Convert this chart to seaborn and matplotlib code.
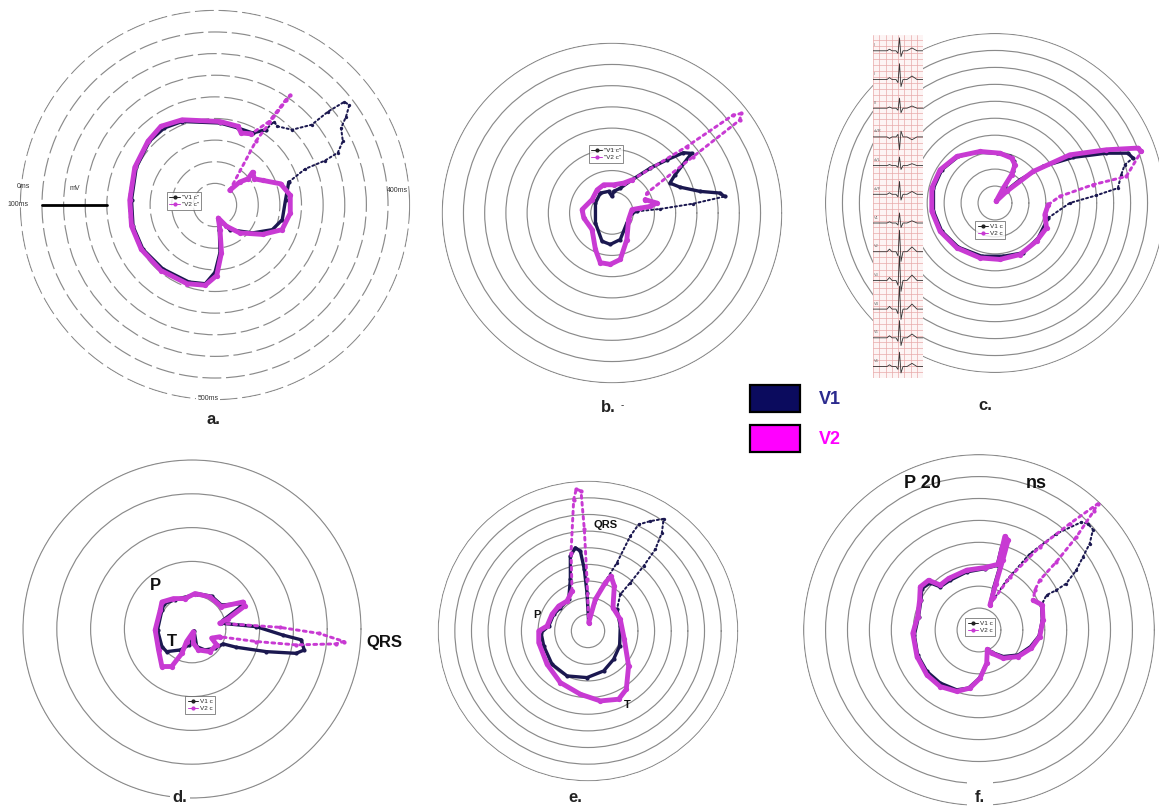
import numpy as np
import matplotlib
matplotlib.use("Agg")
import matplotlib.pyplot as plt
from matplotlib.lines import Line2D
from matplotlib.patches import Rectangle
import seaborn as sns

sns.set_theme(style="white")
plt.rcParams["font.family"] = ["Liberation Sans", "DejaVu Sans"]

# ---------------------------------------------------------------------------
# Loop data: x = horizontal, y = vertical component, in ring units (1 ring = 1)
# qrs = (first, last) index of the fast QRS stretch drawn as a dotted trace
# ---------------------------------------------------------------------------
a_v1_x = [3.41, 4.17, 5.08, 5.68, 5.91, 5.83, 6.06, 6.21, 5.98, 5.23, 4.47, 3.56, 2.88, 2.73, 2.35, 1.74, 1.06, 0.23,
          -1.52, -2.35, -3.03, -3.64, -3.86, -3.79, -3.33, -2.42, -1.21, -0.45, 0.0, 0.23, 0.2, 0.15, 0.68, 1.74,
          2.65, 3.11, 3.26, 3.41]
a_v1_y = [1.06, 1.67, 2.05, 2.42, 2.95, 3.56, 4.09, 4.62, 4.77, 4.32, 3.71, 3.48, 3.64, 3.86, 3.48, 3.33, 3.56, 3.79,
          3.86, 3.56, 2.95, 1.74, 0.23, -0.98, -2.05, -2.95, -3.56, -3.64, -3.11, -2.2, -1.14, -0.6, -1.14, -1.29,
          -1.14, -0.68, 0.23, 1.06]
a_v1_qrs = (0, 14)
a_v2_x = [0.68, 1.89, 3.48, 3.26, 2.5, 1.67, 1.21, 1.06, 0.23, -1.52, -2.5, -3.1, -3.71, -3.94, -3.86, -3.41, -2.5,
          -1.29, -0.45, 0.08, 0.3, 0.23, 0.15, 0.53, 1.14, 2.2, 3.1, 3.48, 3.48, 3.03, 2.2, 1.82, 1.74, 1.52, 1.14, 0.68]
a_v2_y = [0.68, 2.95, 5.08, 4.85, 3.86, 3.29, 3.33, 3.64, 3.86, 3.94, 3.64, 2.95, 1.74, 0.23, -0.98, -2.05, -3.03,
          -3.64, -3.71, -3.26, -2.2, -1.14, -0.6, -0.98, -1.29, -1.36, -1.14, -0.38, 0.45, 0.98, 1.14, 1.21, 1.52,
          1.21, 1.06, 0.68]
a_v2_qrs = (0, 5)

b_v1_x = [1.17, 2.27, 3.83, 5.31, 5.08, 4.14, 3.2, 2.73, 2.97, 3.75, 3.36, 2.58, 1.8, 0.94, 0.39, 0.08, 0.0, -0.16,
          -0.55, -0.78, -0.78, -0.47, -0.08, 0.39, 0.7, 0.94, 1.17]
b_v1_y = [0.08, 0.19, 0.44, 0.78, 0.94, 1.02, 1.22, 1.41, 1.8, 2.81, 2.84, 2.5, 2.11, 1.56, 1.17, 1.02, 0.78, 1.02,
          0.94, 0.47, -0.47, -1.33, -1.48, -1.25, -0.47, 0.0, 0.08]
b_v1_qrs = (0, 3)
b_v2_x = [1.56, 2.11, 1.8, 1.33, 0.94, 0.78, 0.7, 0.39, -0.08, -0.55, -0.78, -0.94, -1.33, -1.41, -0.94, -0.7, -0.39,
          0.08, 0.55, 0.94, 3.52, 5.7, 6.09, 6.02, 3.83, 1.64, 1.56]
b_v2_y = [0.63, 0.47, 0.31, 0.23, 0.16, -0.31, -1.25, -2.19, -2.42, -2.34, -1.72, -0.78, -0.23, 0.16, 0.63, 1.09,
          1.33, 1.33, 1.41, 1.56, 3.13, 4.61, 4.69, 4.38, 2.66, 0.94, 0.63]
b_v2_qrs = (19, 26)

c_v1_x = [0.06, 0.59, 1.08, 1.14, 0.88, 0.1, -1.08, -2.16, -3.14, -3.63, -3.63, -3.14, -2.16, -0.78, 0.49, 1.67, 2.55,
          3.14, 4.41, 5.98, 7.25, 7.45, 7.65, 8.14, 7.84, 6.57, 4.61, 2.84, 1.47, 0.49, 0.06]
c_v1_y = [0.1, 0.98, 1.86, 2.45, 2.75, 2.94, 3.0, 2.75, 1.96, 0.88, -0.49, -1.67, -2.61, -3.14, -3.14, -2.94, -2.06,
          -0.88, 0.0, 0.45, 0.88, 1.67, 2.25, 2.65, 2.94, 2.94, 2.69, 2.16, 1.37, 0.59, 0.1]
c_v1_qrs = (17, 23)
c_v2_x = [0.06, 0.49, 0.98, 1.18, 0.98, 0.29, -0.88, -2.25, -3.24, -3.73, -3.73, -3.24, -2.25, -0.88, 0.29, 1.47,
          2.45, 3.04, 2.94, 3.14, 3.82, 5.78, 7.75, 8.63, 8.43, 6.57, 4.41, 2.25, 0.69, 0.06]
c_v2_y = [0.1, 0.88, 1.67, 2.25, 2.65, 2.94, 3.04, 2.75, 1.96, 0.88, -0.49, -1.67, -2.65, -3.24, -3.33, -3.04, -2.25,
          -1.47, -0.69, -0.1, 0.39, 1.08, 1.57, 3.04, 3.24, 3.14, 2.84, 1.86, 0.69, 0.1]
c_v2_qrs = (19, 23)

d_v1_x = [0.87, 1.9, 2.69, 3.23, 3.32, 3.08, 2.2, 1.31, 0.92, 0.68, 0.38, 0.14, 0.06, -0.08, -0.35, -0.75, -0.89,
          -1.02, -0.89, -0.82, -0.5, -0.16, 0.14, 0.58, 0.87, 1.41, 1.46, 0.92, 0.87]
d_v1_y = [0.17, 0.07, -0.18, -0.32, -0.62, -0.72, -0.67, -0.54, -0.44, -0.57, -0.62, -0.52, -0.05, -0.47, -0.62,
          -0.67, -0.52, -0.03, 0.56, 0.75, 0.87, 0.95, 1.05, 0.97, 0.71, 0.75, 0.68, 0.26, 0.17]
d_v1_qrs = None
d_v2_x = [0.82, 2.59, 3.76, 4.5, 4.25, 3.08, 1.9, 0.82, 0.58, 0.73, 0.53, 0.19, 0.04, 0.04, -0.16, -0.3, -0.6, -0.89,
          -0.99, -1.09, -0.94, -0.89, -0.55, -0.21, 0.09, 0.53, 0.87, 1.51, 1.56, 1.07, 0.82]
d_v2_y = [0.17, 0.05, -0.13, -0.37, -0.44, -0.47, -0.37, -0.23, -0.27, -0.47, -0.67, -0.62, -0.42, -0.08, -0.37,
          -0.72, -1.11, -1.11, -0.62, -0.03, 0.56, 0.8, 0.9, 0.9, 1.05, 0.95, 0.66, 0.8, 0.68, 0.31, 0.17]
d_v2_qrs = (0, 7)

e_v1_x = [0.04, 0.74, 1.74, 2.54, 3.04, 3.74, 4.54, 4.44, 4.04, 3.34, 2.54, 1.94, 1.74, 1.94, 1.9, 1.54, 0.94, -0.06,
          -1.26, -2.16, -2.66, -2.82, -2.36, -2.06, -1.66, -1.16, -1.06, -1.06, -0.76, -0.46, -0.22, -0.06, 0.04]
e_v1_y = [0.5, 2.5, 4.1, 5.7, 6.4, 6.6, 6.74, 5.9, 4.9, 3.9, 2.9, 2.2, 1.3, 0.3, -0.9, -1.7, -2.4, -2.8, -2.7, -2.0,
          -0.9, -0.1, 0.3, 1.0, 1.4, 1.9, 3.1, 4.5, 5.0, 4.8, 3.7, 2.3, 0.5]
e_v1_qrs = (0, 12)
e_v2_x = [0.04, 0.44, 1.04, 1.38, 1.58, 1.5, 1.94, 2.18, 2.44, 2.3, 1.84, 0.74, -0.46, -1.66, -2.46, -2.96, -2.96,
          -2.46, -2.16, -1.76, -1.26, -0.96, -1.02, -0.86, -0.7, -0.42, -0.22, -0.06, 0.04]
e_v2_y = [0.5, 1.9, 2.9, 3.3, 2.7, 1.4, 0.7, -0.5, -2.1, -3.5, -4.1, -4.2, -3.8, -3.1, -2.0, -0.7, 0.0, 0.3, 1.0,
          1.5, 1.8, 2.4, 4.7, 7.9, 8.54, 8.4, 6.1, 3.1, 0.5]
e_v2_qrs = (21, 28)

f_v1_x = [0.5, 1.26, 2.32, 3.53, 4.67, 4.97, 5.2, 5.05, 4.74, 4.44, 3.98, 3.53, 3.08, 2.85, 2.89, 2.74, 2.35, 1.79,
          1.11, 0.58, 0.39, 0.35, 0.02, -0.48, -1.02, -1.77, -2.38, -2.8, -2.95, -2.76, -2.65, -2.61, -2.23, -1.77,
          -1.32, -0.56, 0.27, 0.83, 1.03, 1.14, 0.95, 0.68, 0.5]
f_v1_y = [1.14, 2.27, 3.48, 4.39, 4.92, 4.85, 4.58, 3.94, 3.33, 2.73, 2.12, 1.82, 1.59, 1.14, 0.45, -0.27, -0.76,
          -1.14, -1.21, -1.02, -0.88, -1.52, -2.2, -2.65, -2.73, -2.42, -1.89, -1.14, -0.23, 0.61, 1.36, 1.89, 2.15,
          1.97, 2.27, 2.65, 2.8, 2.95, 3.79, 3.86, 2.88, 1.97, 1.14]
f_v1_qrs = (0, 13)
f_v2_x = [0.5, 1.41, 2.77, 4.14, 5.42, 5.23, 4.44, 3.53, 2.77, 2.55, 2.47, 2.89, 2.92, 2.77, 2.39, 1.79, 1.11, 0.58,
          0.38, 0.35, 0.05, -0.41, -1.02, -1.77, -2.38, -2.83, -3.02, -2.8, -2.71, -2.68, -2.3, -1.77, -1.39, -0.56,
          0.27, 0.88, 1.03, 1.18, 1.33, 1.08, 0.77, 0.5]
f_v2_y = [1.14, 2.42, 3.79, 4.85, 5.76, 5.42, 4.24, 3.11, 2.27, 1.82, 1.36, 1.14, 0.45, -0.3, -0.83, -1.21, -1.29,
          -1.06, -0.88, -1.52, -2.2, -2.65, -2.8, -2.58, -2.05, -1.21, -0.15, 0.61, 1.36, 1.97, 2.27, 2.05, 2.35,
          2.73, 2.85, 3.0, 3.64, 4.27, 4.09, 3.18, 2.12, 1.14]
f_v2_qrs = (0, 10)

# 12-lead strip shown beside panel c: one beat template and per-lead gain
ecg_leads = ["I", "II", "III", "aVR", "aVL", "aVF", "V1", "V2", "V3", "V4", "V5", "V6"]
ecg_gain = [0.45, 0.55, 0.35, -0.45, 0.3, 0.45, 0.35, 0.75, 0.85, 0.8, 0.6, 0.5]
beat_t = [0.0, 0.28, 0.33, 0.38, 0.46, 0.50, 0.53, 0.56, 0.60, 0.68, 0.78, 0.88, 1.0]
beat_v = [0.0, 0.0, 0.12, 0.0, 0.0, -0.2, 1.0, -0.45, 0.0, 0.0, 0.22, 0.0, 0.0]

# ---------------------------------------------------------------------------
W, H = 1159, 808
NAVY = "#1b1850"
MAGENTA = "#c83ad3"
GRID = "#8a8a8a"

fig = plt.figure(figsize=(W / 100, H / 100), dpi=100)
fig.patch.set_facecolor("white")


def fx(px):
    return px / W


def fy(py):
    return 1 - py / H


def make_polar(center, step, rings, dashed=False):
    cx, cy = center
    R = step * rings
    ax = fig.add_axes([fx(cx - R), fy(cy + R), 2 * R / W, 2 * R / H], projection="polar")
    ax.set_facecolor("none")
    ax.set_ylim(0, rings + 0.03)
    ax.set_rgrids(np.arange(1, rings + 1), labels=[""] * rings)
    ax.set_xticks([])
    ax.spines["polar"].set_visible(False)
    ax.grid(True, axis="y", color=GRID, lw=0.85, ls=(0, (16, 4)) if dashed else "-")
    ax.grid(False, axis="x")
    return ax


def draw_trace(ax, xs, ys, qrs, color, lw, ms):
    x = np.asarray(xs, float)
    y = np.asarray(ys, float)
    theta = np.unwrap(np.arctan2(y, x))
    r = np.hypot(x, y)
    n = len(x)
    if qrs is None:
        solid = np.arange(n)
        dotted = None
    else:
        s, e = qrs
        solid = np.r_[np.arange(e, n), np.arange(1, s + 1)]
        dotted = np.arange(s, e + 1)
    sns.lineplot(x=theta[solid], y=r[solid], sort=False, estimator=None, ax=ax, color=color,
                 lw=lw, marker="o", ms=ms, mew=0, solid_joinstyle="round", solid_capstyle="round")
    if dotted is not None:
        sns.lineplot(x=theta[dotted], y=r[dotted], sort=False, estimator=None, ax=ax, color=color,
                     lw=lw * 0.6, linestyle=(0, (1.0, 1.4)), dash_capstyle="round",
                     marker="o", ms=ms * 0.8, mew=0)


def panel_legend(ax, labels, pos):
    handles = [Line2D([], [], color="#222222", lw=0.7, marker="o", ms=2),
               Line2D([], [], color=MAGENTA, lw=0.7, marker="o", ms=2)]
    leg = ax.legend(handles, labels, loc="center", bbox_to_anchor=(fx(pos[0]), fy(pos[1])),
                    bbox_transform=fig.transFigure, fontsize=4.6, frameon=True, fancybox=False,
                    handlelength=1.6, handletextpad=0.3, borderpad=0.35, labelspacing=0.25)
    leg.get_frame().set_edgecolor("#555555")
    leg.get_frame().set_linewidth(0.6)
    leg.set_zorder(20)


panels = [
    dict(key="a", center=(215, 205), step=21.7, rings=9, dashed=True,
         v1=(a_v1_x, a_v1_y, a_v1_qrs), v2=(a_v2_x, a_v2_y, a_v2_qrs)),
    dict(key="b", center=(612, 213), step=21.3, rings=8,
         v1=(b_v1_x, b_v1_y, b_v1_qrs), v2=(b_v2_x, b_v2_y, b_v2_qrs)),
    dict(key="c", center=(995, 203), step=17.0, rings=10,
         v1=(c_v1_x, c_v1_y, c_v1_qrs), v2=(c_v2_x, c_v2_y, c_v2_qrs)),
    dict(key="d", center=(192, 629), step=34.0, rings=5,
         v1=(d_v1_x, d_v1_y, d_v1_qrs), v2=(d_v2_x, d_v2_y, d_v2_qrs)),
    dict(key="e", center=(588, 631), step=16.7, rings=9,
         v1=(e_v1_x, e_v1_y, e_v1_qrs), v2=(e_v2_x, e_v2_y, e_v2_qrs)),
    dict(key="f", center=(979, 630), step=22.0, rings=8,
         v1=(f_v1_x, f_v1_y, f_v1_qrs), v2=(f_v2_x, f_v2_y, f_v2_qrs)),
]

axes = {}
for p in panels:
    ax = make_polar(p["center"], p["step"], p["rings"], p.get("dashed", False))
    draw_trace(ax, *p["v1"], color=NAVY, lw=2.4, ms=3.0)
    draw_trace(ax, *p["v2"], color=MAGENTA, lw=3.5, ms=3.8)
    axes[p["key"]] = ax

# panel a: amplitude scale bar along the 0 ms direction and time marks
axes["a"].plot([np.pi, np.pi], [5.0, 8.0], color="black", lw=2.0)
small = dict(fontsize=5, color="#333333", ha="center", va="center")
fig.text(fx(23), fy(187), "0ms", **small)
fig.text(fx(18), fy(204), "100ms", **small)
fig.text(fx(75), fy(188), "mV", **small)
fig.text(fx(397), fy(190), "400ms", **small)
fig.text(fx(208), fy(398), "500ms", **small, bbox=dict(facecolor="white", edgecolor="none", pad=1))

# in-panel legends
panel_legend(axes["a"], ['"V1 c"', '"V2 c"'], (184, 201))
panel_legend(axes["b"], ['"V1 c"', '"V2 c"'], (606, 154))
panel_legend(axes["c"], ["V1 c", "V2 c"], (990, 230))
panel_legend(axes["d"], ["V1 c", "V2 c"], (200, 705))
panel_legend(axes["f"], ["V1 c", "V2 c"], (980, 627))

# 12-lead strip over the left part of panel c
ecg = fig.add_axes([fx(873), fy(378), 50 / W, 343 / H])
ecg.set_zorder(10)
ecg.set_facecolor("#fdf4f4")
ecg.set_xlim(0, 1)
ecg.set_ylim(-11.4, 0.55)
ecg.set_xticks(np.arange(0, 1.001, 0.125))
ecg.set_yticks(np.arange(-11.4, 0.56, 0.21))
ecg.tick_params(length=0, labelbottom=False, labelleft=False)
ecg.grid(True, color="#e8aaaa", lw=0.5)
for s in ecg.spines.values():
    s.set_visible(False)
bt = np.asarray(beat_t)
bv = np.asarray(beat_v)
for i, (lead, g) in enumerate(zip(ecg_leads, ecg_gain)):
    sns.lineplot(x=bt, y=-i + g * bv, sort=False, estimator=None, ax=ecg, color="#333333", lw=0.6)
    ecg.text(0.02, -i + 0.12, lead, fontsize=2.8, color="#666666", ha="left", va="bottom")

# panel d annotations
bold = dict(fontweight="bold", color="#111111", ha="center", va="center")
fig.text(fx(155), fy(586), "P", fontsize=12, **bold)
fig.text(fx(172), fy(641), "T", fontsize=12, **bold)
fig.text(fx(384), fy(642), "QRS", fontsize=12, **bold)
# panel e annotations
fig.text(fx(606), fy(525), "QRS", fontsize=8, **bold)
fig.text(fx(537), fy(615), "P", fontsize=8, **bold)
fig.text(fx(627), fy(705), "T", fontsize=8, **bold)
# panel f annotations
fig.text(fx(922), fy(484), "P 20", fontsize=13, **bold)
fig.text(fx(1036), fy(484), "ns", fontsize=13, **bold)

# panel letters
lab = dict(fontsize=12, fontweight="bold", color="#222222", ha="center", va="center")
fig.text(fx(213), fy(420), "a.", **lab)
fig.text(fx(608), fy(407), "b.", **lab)
fig.text(fx(622), fy(405), "-", fontsize=7, color="#222222", ha="center", va="center")
fig.text(fx(985), fy(405), "c.", **lab)
fig.text(fx(180), fy(797), "d.", **lab, bbox=dict(facecolor="white", edgecolor="none", pad=2))
fig.text(fx(575), fy(797), "e.", **lab)
fig.text(fx(980), fy(797), "f.", **lab, bbox=dict(facecolor="white", edgecolor="none", pad=6))

# series key
for (y0, fc, txt, tc) in [(385, "#0b0b5e", "V1", "#2b2a8e"), (425, "#ff00ff", "V2", "#ff00ff")]:
    fig.patches.append(Rectangle((fx(750), fy(y0 + 27)), 50 / W, 27 / H, transform=fig.transFigure,
                                 facecolor=fc, edgecolor="black", lw=1.6, zorder=5))
    fig.text(fx(830), fy(y0 + 14), txt, fontsize=13, fontweight="bold", color=tc, ha="center", va="center")

fig.savefig("out.png", dpi=100)
